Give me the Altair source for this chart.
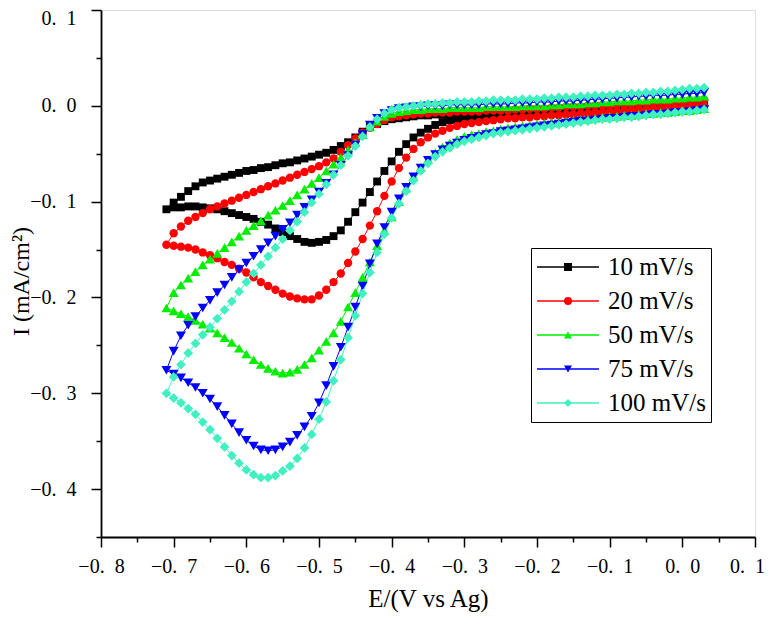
import altair as alt
import pandas as pd

# Potential grid (V vs Ag), 10 mV steps
E = [-0.71, -0.70, -0.69, -0.68, -0.67, -0.66, -0.65, -0.64, -0.63, -0.62,
     -0.61, -0.60, -0.59, -0.58, -0.57, -0.56, -0.55, -0.54, -0.53, -0.52,
     -0.51, -0.50, -0.49, -0.48, -0.47, -0.46, -0.45, -0.44, -0.43, -0.42,
     -0.41, -0.40, -0.39, -0.38, -0.37, -0.36, -0.35, -0.34, -0.33, -0.32,
     -0.31, -0.30, -0.29, -0.28, -0.27, -0.26, -0.25, -0.24, -0.23, -0.22,
     -0.21, -0.20, -0.19, -0.18, -0.17, -0.16, -0.15, -0.14, -0.13, -0.12,
     -0.11, -0.10, -0.09, -0.08, -0.07, -0.06, -0.05, -0.04, -0.03, -0.02,
     -0.01, 0.00, 0.01, 0.02, 0.03]

SERIES = ["10 mV/s", "20 mV/s", "50 mV/s", "75 mV/s", "100 mV/s"]
COLORS = ["#000000", "#FF0000", "#00EE00", "#0000FF", "#40F0C0"]
SHAPES = ["square", "circle", "triangle-up", "triangle-down", "diamond"]
SIZES = [62, 70, 100, 100, 95]

# current density (mA/cm2), lower (cathodic peak) branch / upper (return) branch
LOWER_10 = [-0.108, -0.106, -0.106, -0.105, -0.105, -0.106, -0.107, -0.108, -0.110, -0.112,
            -0.114, -0.116, -0.118, -0.121, -0.124, -0.128, -0.132, -0.136, -0.139, -0.142,
            -0.143, -0.142, -0.140, -0.136, -0.130, -0.121, -0.111, -0.101, -0.090, -0.079,
            -0.068, -0.058, -0.048, -0.040, -0.033, -0.028, -0.024, -0.020, -0.017, -0.015,
            -0.014, -0.013, -0.012, -0.012, -0.011, -0.011, -0.010, -0.010, -0.010, -0.009,
            -0.009, -0.008, -0.008, -0.008, -0.007, -0.007, -0.007, -0.006, -0.006, -0.006,
            -0.005, -0.004, -0.004, -0.004, -0.004, -0.003, -0.003, -0.003, -0.003, -0.002,
            -0.002, -0.002, -0.001, -0.001, -0.001]
UPPER_10 = [-0.108, -0.101, -0.095, -0.089, -0.084, -0.080, -0.078, -0.076, -0.074, -0.072,
            -0.070, -0.068, -0.067, -0.065, -0.064, -0.062, -0.060, -0.059, -0.057, -0.055,
            -0.053, -0.051, -0.049, -0.046, -0.042, -0.038, -0.033, -0.027, -0.022, -0.019,
            -0.016, -0.014, -0.013, -0.012, -0.011, -0.010, -0.010, -0.009, -0.009, -0.008,
            -0.008, -0.008, -0.008, -0.008, -0.007, -0.007, -0.007, -0.007, -0.006, -0.006,
            -0.006, -0.005, -0.005, -0.005, -0.005, -0.004, -0.004, -0.004, -0.004, -0.003,
            -0.003, -0.002, -0.002, -0.002, -0.001, -0.001, -0.001, 0.000, 0.000, 0.000,
            0.001, 0.001, 0.002, 0.002, 0.003]

LOWER_20 = [-0.145, -0.146, -0.147, -0.148, -0.150, -0.153, -0.156, -0.159, -0.163, -0.166,
            -0.170, -0.174, -0.179, -0.184, -0.188, -0.192, -0.196, -0.199, -0.201, -0.202,
            -0.202, -0.198, -0.192, -0.184, -0.175, -0.164, -0.152, -0.139, -0.125, -0.110,
            -0.094, -0.079, -0.065, -0.054, -0.045, -0.038, -0.033, -0.029, -0.026, -0.023,
            -0.021, -0.019, -0.018, -0.017, -0.016, -0.015, -0.014, -0.013, -0.013, -0.012,
            -0.012, -0.011, -0.011, -0.010, -0.010, -0.009, -0.009, -0.008, -0.008, -0.007,
            -0.007, -0.006, -0.006, -0.005, -0.005, -0.004, -0.004, -0.003, -0.003, -0.002,
            -0.002, -0.001, -0.001, 0.000, 0.000]
UPPER_20 = [-0.145, -0.133, -0.126, -0.120, -0.116, -0.112, -0.108, -0.105, -0.102, -0.099,
            -0.096, -0.093, -0.090, -0.087, -0.084, -0.081, -0.078, -0.075, -0.072, -0.069,
            -0.066, -0.063, -0.059, -0.055, -0.048, -0.041, -0.034, -0.028, -0.023, -0.019,
            -0.015, -0.012, -0.011, -0.010, -0.009, -0.008, -0.008, -0.007, -0.007, -0.007,
            -0.006, -0.006, -0.006, -0.006, -0.005, -0.005, -0.005, -0.005, -0.004, -0.004,
            -0.003, -0.003, -0.003, -0.002, -0.002, -0.001, -0.001, -0.001, 0.000, 0.000,
            0.000, 0.000, 0.001, 0.001, 0.001, 0.002, 0.002, 0.003, 0.003, 0.003,
            0.004, 0.004, 0.005, 0.005, 0.006]

LOWER_50 = [-0.211, -0.214, -0.217, -0.220, -0.224, -0.228, -0.232, -0.237, -0.242, -0.247,
            -0.253, -0.259, -0.265, -0.270, -0.274, -0.277, -0.279, -0.278, -0.275, -0.270,
            -0.263, -0.255, -0.246, -0.237, -0.225, -0.210, -0.195, -0.179, -0.163, -0.146,
            -0.130, -0.116, -0.100, -0.086, -0.074, -0.064, -0.056, -0.049, -0.043, -0.039,
            -0.035, -0.032, -0.030, -0.029, -0.027, -0.026, -0.024, -0.023, -0.022, -0.021,
            -0.020, -0.019, -0.018, -0.017, -0.017, -0.016, -0.015, -0.014, -0.014, -0.013,
            -0.012, -0.011, -0.011, -0.010, -0.010, -0.009, -0.008, -0.008, -0.007, -0.007,
            -0.006, -0.005, -0.005, -0.004, -0.003]
UPPER_50 = [-0.211, -0.195, -0.187, -0.180, -0.173, -0.166, -0.160, -0.154, -0.148, -0.142,
            -0.136, -0.130, -0.125, -0.120, -0.114, -0.109, -0.104, -0.099, -0.093, -0.087,
            -0.081, -0.075, -0.068, -0.061, -0.054, -0.046, -0.038, -0.030, -0.022, -0.016,
            -0.011, -0.008, -0.006, -0.005, -0.004, -0.004, -0.003, -0.003, -0.003, -0.002,
            -0.002, -0.002, -0.002, -0.002, -0.001, -0.001, -0.001, -0.001, -0.001, 0.000,
            0.000, 0.000, 0.000, 0.001, 0.001, 0.002, 0.002, 0.002, 0.003, 0.003,
            0.004, 0.004, 0.005, 0.005, 0.005, 0.006, 0.006, 0.007, 0.007, 0.007,
            0.008, 0.008, 0.009, 0.009, 0.010]

LOWER_75 = [-0.276, -0.280, -0.284, -0.289, -0.294, -0.300, -0.306, -0.314, -0.323, -0.332,
            -0.341, -0.349, -0.355, -0.359, -0.360, -0.359, -0.356, -0.351, -0.344, -0.335,
            -0.324, -0.310, -0.292, -0.272, -0.252, -0.231, -0.210, -0.188, -0.165, -0.144,
            -0.127, -0.111, -0.097, -0.085, -0.074, -0.065, -0.057, -0.051, -0.046, -0.042,
            -0.039, -0.036, -0.034, -0.032, -0.030, -0.029, -0.027, -0.026, -0.025, -0.024,
            -0.023, -0.022, -0.021, -0.020, -0.019, -0.018, -0.017, -0.016, -0.016, -0.015,
            -0.014, -0.013, -0.013, -0.012, -0.011, -0.011, -0.010, -0.009, -0.009, -0.008,
            -0.007, -0.007, -0.006, -0.005, -0.004]
UPPER_75 = [-0.276, -0.256, -0.240, -0.229, -0.220, -0.211, -0.203, -0.195, -0.187, -0.179,
            -0.171, -0.164, -0.157, -0.150, -0.143, -0.136, -0.129, -0.122, -0.114, -0.106,
            -0.098, -0.090, -0.081, -0.072, -0.062, -0.052, -0.041, -0.030, -0.020, -0.013,
            -0.008, -0.005, -0.003, -0.002, -0.001, -0.001, 0.000, 0.000, 0.000, 0.001,
            0.001, 0.001, 0.001, 0.001, 0.002, 0.002, 0.002, 0.002, 0.003, 0.003,
            0.003, 0.004, 0.004, 0.004, 0.005, 0.005, 0.005, 0.006, 0.006, 0.007,
            0.007, 0.008, 0.008, 0.009, 0.009, 0.010, 0.010, 0.011, 0.011, 0.011,
            0.012, 0.012, 0.013, 0.013, 0.014]

LOWER_100 = [-0.300, -0.305, -0.310, -0.316, -0.322, -0.330, -0.338, -0.347, -0.356, -0.365,
             -0.373, -0.380, -0.385, -0.388, -0.388, -0.386, -0.381, -0.376, -0.368, -0.357,
             -0.343, -0.327, -0.309, -0.287, -0.265, -0.242, -0.219, -0.196, -0.174, -0.153,
             -0.134, -0.117, -0.102, -0.089, -0.078, -0.068, -0.060, -0.053, -0.048, -0.044,
             -0.040, -0.037, -0.035, -0.033, -0.031, -0.029, -0.028, -0.027, -0.026, -0.025,
             -0.024, -0.023, -0.022, -0.021, -0.020, -0.019, -0.018, -0.017, -0.016, -0.015,
             -0.014, -0.014, -0.013, -0.012, -0.012, -0.011, -0.010, -0.009, -0.009, -0.008,
             -0.007, -0.006, -0.006, -0.005, -0.004]
UPPER_100 = [-0.300, -0.283, -0.270, -0.258, -0.248, -0.239, -0.231, -0.222, -0.213, -0.204,
             -0.194, -0.184, -0.175, -0.166, -0.157, -0.148, -0.139, -0.130, -0.121, -0.111,
             -0.101, -0.092, -0.082, -0.072, -0.062, -0.052, -0.042, -0.032, -0.022, -0.014,
             -0.008, -0.004, -0.002, -0.001, 0.000, 0.001, 0.002, 0.002, 0.003, 0.003,
             0.004, 0.004, 0.004, 0.005, 0.005, 0.006, 0.006, 0.006, 0.006, 0.007,
             0.007, 0.007, 0.008, 0.008, 0.009, 0.009, 0.009, 0.010, 0.010, 0.011,
             0.011, 0.011, 0.012, 0.012, 0.013, 0.013, 0.014, 0.014, 0.015, 0.015,
             0.016, 0.017, 0.018, 0.018, 0.019]

LOWER = [LOWER_10, LOWER_20, LOWER_50, LOWER_75, LOWER_100]
UPPER = [UPPER_10, UPPER_20, UPPER_50, UPPER_75, UPPER_100]

X_TICKS = [-0.8, -0.75, -0.7, -0.65, -0.6, -0.55, -0.5, -0.45, -0.4, -0.35,
           -0.3, -0.25, -0.2, -0.15, -0.1, -0.05, 0.0, 0.05, 0.1]
Y_TICKS = [-0.45, -0.4, -0.35, -0.3, -0.25, -0.2, -0.15, -0.1, -0.05, 0.0, 0.05, 0.1]

rows = []
for s, lo, up in zip(SERIES, LOWER, UPPER):
    k = 0
    for e, v in zip(reversed(E), reversed(lo)):
        rows.append({"series": s, "E": e, "I": v, "idx": k})
        k += 1
    for e, v in zip(E[1:], up[1:]):
        rows.append({"series": s, "E": e, "I": v, "idx": k})
        k += 1
df = pd.DataFrame(rows)

FONT = "Liberation Serif"
LEG_X, LEG_Y = 430, 238

# legend A: line samples + labels (from the line layers)
LEGEND_LINES = alt.Legend(
    title=None, orient="none", legendX=LEG_X, legendY=LEG_Y,
    strokeColor="black", padding=5,
    symbolSize=3844, symbolStrokeWidth=1.3, clipHeight=28, rowPadding=6,
    labelFont=FONT, labelFontSize=25, labelColor="black", labelOffset=8,
)
# legend B: markers only, laid over the middle of the line samples
LEGEND_MARKS = alt.Legend(
    title=None, orient="none", legendX=LEG_X + 28, legendY=LEG_Y,
    padding=5, symbolSize=64, symbolStrokeWidth=0, clipHeight=28, rowPadding=6,
    labelFontSize=1, labelOpacity=0, labelOffset=0, symbolOpacity=1,
)

# stroke scale ordered by sort (own domain), colour+shape share an explicit domain -> merged legend
stroke = alt.Stroke("series:N", sort=SERIES, scale=alt.Scale(range=COLORS), legend=LEGEND_LINES)
color = alt.Color("series:N", scale=alt.Scale(domain=SERIES, range=COLORS), legend=LEGEND_MARKS)
shape = alt.Shape("series:N", scale=alt.Scale(domain=SERIES, range=SHAPES), legend=LEGEND_MARKS)

label_expr = ("round(datum.value*20) % 2 == 0 ? "
              "replace(format(datum.value, '.1f'), '.', '.\u2002') : ''")
tick_size = {"condition": {"test": "round(datum.value*20) % 2 == 0", "value": 10}, "value": 5}
top_shift = {"condition": {"test": "datum.value > 0.09", "value": 8}, "value": 0}
right_shift = {"condition": {"test": "datum.value > 0.09", "value": -8}, "value": 0}

x = alt.X("E:Q", scale=alt.Scale(domain=[-0.8, 0.1], nice=False, zero=False),
          axis=alt.Axis(values=X_TICKS, labelExpr=label_expr, tickSize=tick_size,
                        labelOffset=right_shift,
                        title="E/(V vs Ag)", grid=False, labelFlush=False, labelOverlap=False,
                        labelFont=FONT, labelFontSize=20, labelColor="black", labelPadding=9,
                        titleFont=FONT, titleFontSize=25, titleFontWeight="normal",
                        titleColor="black", titlePadding=10,
                        domainColor="black", domainWidth=1.8, tickColor="black", tickWidth=1.5))
y = alt.Y("I:Q", scale=alt.Scale(domain=[-0.45, 0.1], nice=False, zero=False),
          axis=alt.Axis(values=Y_TICKS, labelExpr=label_expr, tickSize=tick_size,
                        labelOffset=top_shift,
                        title="I (mA/cm²)", grid=False, labelFlush=False, labelOverlap=False,
                        labelFont=FONT, labelFontSize=20, labelColor="black", labelPadding=15,
                        titleFont=FONT, titleFontSize=24, titleFontWeight="normal",
                        titleColor="black", titleX=-68, titleY=271,
                        domainColor="black", domainWidth=1.8, tickColor="black", tickWidth=1.5))

base = alt.Chart(df)
layers = []
for s in SERIES:
    layers.append(
        base.transform_filter(alt.datum.series == s)
        .mark_line(strokeWidth=1, clip=True)
        .encode(x=x, y=y, stroke=stroke, order="idx:Q")
    )
for s, sz in zip(SERIES, SIZES):
    layers.append(
        base.transform_filter(alt.datum.series == s)
        .mark_point(filled=True, size=sz, opacity=1, strokeWidth=0)
        .encode(x=x, y=y, color=color, shape=shape)
    )

chart = alt.layer(*layers).properties(
    width=654, height=527,
    autosize=alt.AutoSizeParams(type="none"),
    padding={"left": 93, "top": 2, "right": 11, "bottom": 78},
).configure_view(stroke="black", strokeWidth=1.5).configure(background="white")

chart.save("out.html", embed_options={"renderer": "svg", "actions": False})
